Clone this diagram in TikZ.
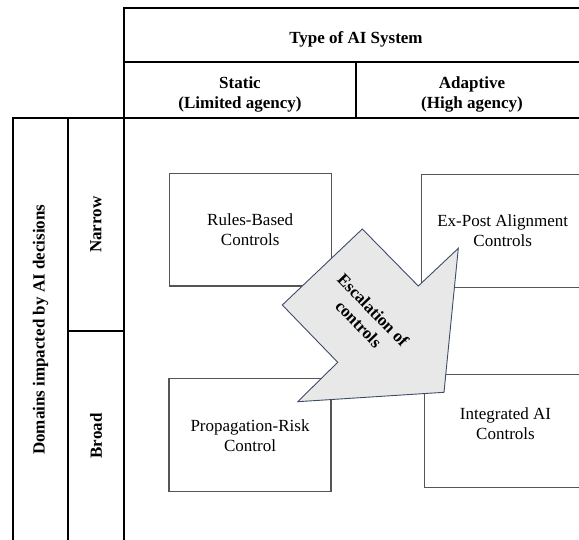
\documentclass[tikz,border=0pt]{standalone}
\usepackage{fontspec}
\setmainfont{Liberation Serif}
\definecolor{arrowline}{RGB}{62,76,104}
\definecolor{arrowfill}{RGB}{232,232,232}
\definecolor{boxline}{RGB}{85,85,85}
\begin{document}
\begin{tikzpicture}[x=1pt,y=-1pt,
  cell/.style={draw=black, line width=2pt, rectangle, inner sep=0pt,
    font=\bfseries\fontsize{17}{20}\selectfont, align=center},
  ctrl/.style={draw=boxline, line width=1.1pt, rectangle, inner sep=0pt,
    minimum width=162pt, minimum height=113pt,
    font=\fontsize{17}{20}\selectfont, align=center},
  arrowshape/.style={fill=arrowfill, draw=arrowline, line width=0.9pt, line join=miter},
  arrowtext/.style={font=\bfseries\fontsize{17}{20}\selectfont, align=center, rotate=-46}]
\useasboundingbox (0,0) rectangle (579,540);
\clip (0,0) rectangle (579,540);

% header
\node[cell, minimum width=464pt, minimum height=54.6pt] (type) at (356,35) {\rule{0pt}{21pt}Type of AI System};
\node[cell, minimum width=232pt, minimum height=56pt] (static) at (240,90.3) {\rule{0pt}{21pt}Static\\(Limited agency)};
\node[cell, minimum width=232pt, minimum height=56pt] (adaptive) at (472,90.3) {\rule{0pt}{21pt}Adaptive\\(High agency)};

% left side
\node[cell, minimum width=55pt, minimum height=422.5pt] (domains) at (40.5,329.75) {\rotatebox{90}{Domains impacted by AI decisions}};
\node[cell, minimum width=56pt, minimum height=212.5pt] (narrow) at (96,224.75) {\rotatebox{90}{Narrow}};
\node[cell, minimum width=56pt, minimum height=210pt] (broad) at (96,436) {\rotatebox{90}{Broad}};

% body area
\node[cell, minimum width=464pt, minimum height=422.7pt] (body) at (356,329.65) {};

% control boxes
\node[ctrl, minimum width=161.7pt, minimum height=112.7pt] (rules) at (250.2,229.7) {Rules-Based\\Controls};
\node[ctrl] (expost) at (502.7,230.7) {Ex-Post Alignment\\Controls};
\node[ctrl, minimum height=112.7pt] (prop) at (250,435.3) {Propagation-Risk\\Control};
\node[ctrl, minimum height=112.7pt] (integ) at (505.5,431.3) {Integrated AI\\Controls\rule[-15pt]{0pt}{15pt}};

% escalation arrow
\coordinate (a1) at (362.3,229);
\coordinate (a2) at (418.3,286);
\coordinate (a3) at (458.3,248.3);
\coordinate (a4) at (444,392.3);
\coordinate (a5) at (297.7,401.7);
\coordinate (a6) at (337.7,362.3);
\coordinate (a7) at (282.3,305);
\draw[arrowshape] (a1) -- (a2) -- (a3) -- (a4) -- (a5) -- (a6) -- (a7) -- cycle;
\node[arrowtext] (esc) at (366,317) {Escalation of\\controls};
\end{tikzpicture}
\end{document}
